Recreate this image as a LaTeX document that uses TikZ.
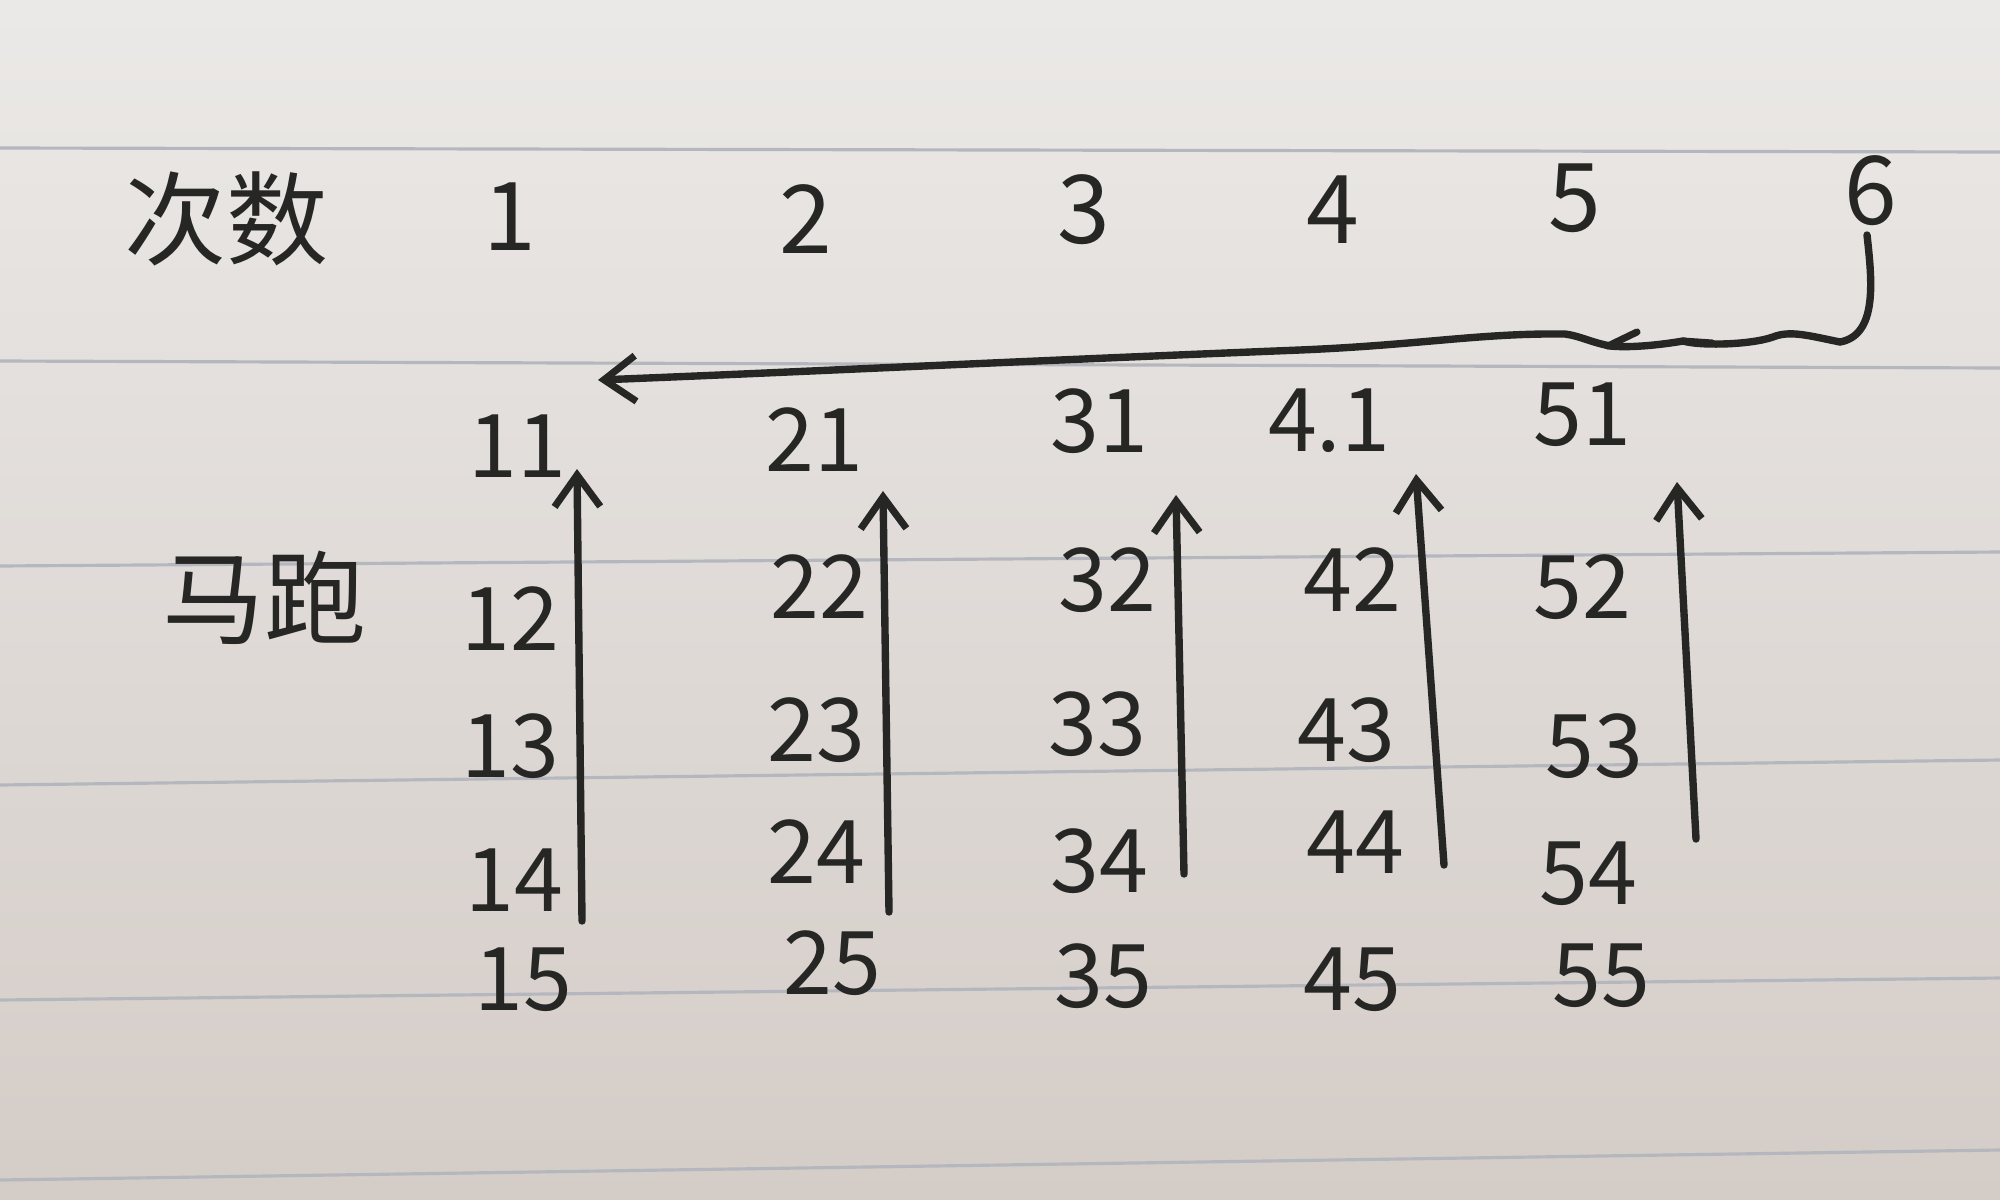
\documentclass[tikz,border=0pt]{standalone}
\usepackage{fontspec}
\setmainfont{Noto Sans CJK SC}
\usetikzlibrary{arrows.meta}
\definecolor{papertop}{HTML}{EBE9E7}
\definecolor{paperbot}{HTML}{D4CCC7}
\definecolor{rule}{HTML}{B5B7BE}
\definecolor{ink}{HTML}{262624}
\tikzset{
  lbl/.style={text=ink, inner sep=0pt, font=\fontsize{25}{30}\selectfont},
  head/.style={text=ink, inner sep=0pt, font=\fontsize{27}{32}\selectfont},
  cjk/.style={text=ink, inner sep=0pt, font=\fontsize{29}{34}\selectfont},
  upar/.style={draw=ink, line width=2.1pt, line cap=round, -{Straight Barb[length=9pt,width=13pt,line width=2pt]}},
  paperline/.style={draw=rule, line width=0.9pt}
}
\begin{document}
\begin{tikzpicture}[x=0.01cm,y=-0.01cm]
\useasboundingbox (0,0) rectangle (2000,1200);
\shade[top color=papertop, bottom color=paperbot] (0,0) rectangle (2000,1200);
% ruled lines
\draw[paperline] (0,148) -- (2000,152);
\draw[paperline] (0,361) -- (2000,368);
\draw[paperline] (0,566) -- (2000,552);
\draw[paperline] (0,785) -- (2000,760);
\draw[paperline] (0,1000) -- (2000,978);
\draw[paperline] (0,1180) -- (2000,1150);
% header
\node[cjk] (ci) at (226,219) {次数};
\node[head] (h1) at (510,217) {1};
\node[head] (h2) at (806,219) {2};
\node[head] (h3) at (1084,210) {3};
\node[head] (h4) at (1333,210) {4};
\node[head] (h5) at (1575,198) {5};
\node[head] (h6) at (1871,191) {6};
\node[cjk] (ma) at (264,598) {马跑};
% grid
\node[lbl] (n11) at (517,446) {11};
\node[lbl] (n21) at (814,440) {21};
\node[lbl] (n31) at (1099,421) {31};
\node[lbl] (n41) at (1329,421) {4.1};
\node[lbl] (n51) at (1582,415) {51};
\node[lbl] (n12) at (510,619) {12};
\node[lbl] (n22) at (819,587) {22};
\node[lbl] (n32) at (1107,580) {32};
\node[lbl] (n42) at (1352,580) {42};
\node[lbl] (n52) at (1582,587) {52};
\node[lbl] (n13) at (510,746) {13};
\node[lbl] (n23) at (816,730) {23};
\node[lbl] (n33) at (1097,724) {33};
\node[lbl] (n43) at (1346,730) {43};
\node[lbl] (n53) at (1594,746) {53};
\node[lbl] (n14) at (514,880) {14};
\node[lbl] (n24) at (816,852) {24};
\node[lbl] (n34) at (1099,861) {34};
\node[lbl] (n44) at (1355,842) {44};
\node[lbl] (n54) at (1588,874) {54};
\node[lbl] (n15) at (523,980) {15};
\node[lbl] (n25) at (832,963) {25};
\node[lbl] (n35) at (1103,976) {35};
\node[lbl] (n45) at (1352,980) {45};
\node[lbl] (n55) at (1601,976) {55};
% column arrows
\coordinate (a1s) at (582,921); \coordinate (a1e) at (577,469);
\coordinate (a2s) at (889,912); \coordinate (a2e) at (883,491);
\coordinate (a3s) at (1184,874); \coordinate (a3e) at (1176,495);
\coordinate (a4s) at (1444,865); \coordinate (a4e) at (1416,474);
\coordinate (a5s) at (1696,839); \coordinate (a5e) at (1677,482);
\draw[upar] (a1s) -- (a1e);
\draw[upar] (a2s) -- (a2e);
\draw[upar] (a3s) -- (a3e);
\draw[upar] (a4s) -- (a4e);
\draw[upar] (a5s) -- (a5e);
% return arrow from 6 to column 1
\coordinate (rs) at (1867,235);
\coordinate (re) at (598,380);
\draw[upar] (rs) .. controls (1872,280) and (1878,335) .. (1840,342)
  .. controls (1810,336) and (1790,330) .. (1773,337)
  .. controls (1750,345) and (1700,346) .. (1683,341)
  .. controls (1660,345) and (1630,348) .. (1610,346)
  .. controls (1590,342) and (1580,336) .. (1565,334)
  .. controls (1480,333) and (1420,345) .. (1300,350)
  .. controls (1000,362) and (800,372) .. (re);
\draw[draw=ink, line width=2pt, line cap=round] (1608,346) -- (1637,332);
\draw[draw=ink, line width=2pt, line cap=round] (1683,341) -- (1712,343);
\end{tikzpicture}
\end{document}
